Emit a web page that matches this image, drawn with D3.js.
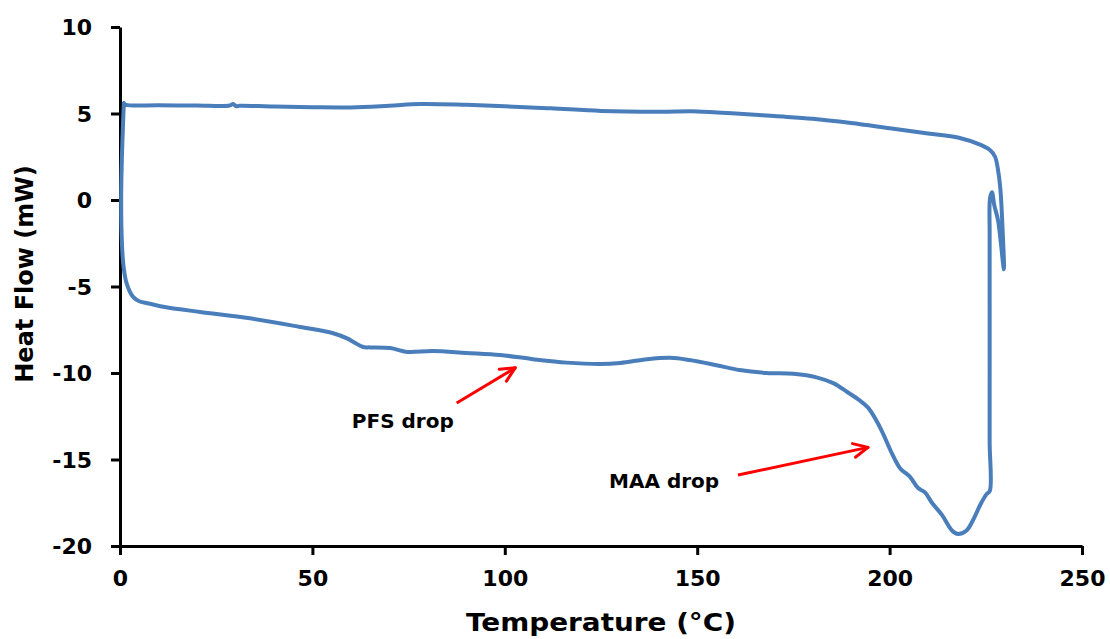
<!DOCTYPE html>
<html><head><meta charset="utf-8">
<script src="https://cdn.jsdelivr.net/npm/d3@7"></script>
<style>body{margin:0;background:#fff}svg text{font-family:"DejaVu Sans",Verdana,sans-serif;font-weight:bold;fill:#000}</style>
</head><body><svg id="c" width="1110" height="639"></svg>
<script>
// Temperature (°C) along the DSC loop, in drawing order
const temps = [1.0,1.6,10,20,28.5,29.4,30.2,31,40,50,60,70,78,90,100,112,125,140,150,160,170,180,190,200,210,218,223.5,226,227.4,228.2,228.8,229.3,229.7,228.2,227.2,226.6,226.1,226.0,226.0,226.0,226.0,226.05,225.2,223.6,221.7,220,217.8,216.2,213.6,211,209.2,207.4,205.3,202.7,200.5,198.5,196.7,194.4,192.3,189,185.5,181,175,168,161,155,148,143,137,130,124.7,116,107.3,98.8,90,81.3,74.6,70.2,65,63.2,61,59,55.4,46.8,33.8,20.8,12,7.8,5,3.4,1.7,0.9,0.5,0.3,0.5,0.8,1.0];
// Heat flow (mW)
const heatFlow = [5.6,5.5,5.48,5.46,5.46,5.55,5.42,5.45,5.4,5.36,5.35,5.45,5.55,5.5,5.42,5.3,5.15,5.1,5.12,5.0,4.85,4.7,4.45,4.15,3.85,3.6,3.2,2.9,2.5,1.7,0.6,-1.4,-4.0,-1.2,-0.3,0.45,0.1,-2.0,-6.0,-10.0,-14.0,-16.8,-17.0,-17.6,-18.5,-19.1,-19.3,-19.1,-18.2,-17.5,-16.9,-16.65,-16.0,-15.5,-14.6,-13.6,-12.8,-12.0,-11.6,-11.1,-10.6,-10.25,-10.05,-10.0,-9.83,-9.55,-9.25,-9.12,-9.2,-9.42,-9.48,-9.4,-9.2,-8.96,-8.84,-8.73,-8.78,-8.56,-8.52,-8.5,-8.25,-8.0,-7.7,-7.34,-6.84,-6.47,-6.2,-6.0,-5.85,-5.6,-4.8,-3.8,-2.5,0,2.5,4.5,5.6];
const xTicks = [0,50,100,150,200,250];
const yTicks = [10,5,0,-5,-10,-15,-20];
const noteLabels = ["PFS drop","MAA drop"];
const noteFrom = [[87.5,-11.73],[160.6,-15.9]];
const noteTo = [[102.7,-9.7],[194.4,-14.3]];
const noteText = [[73.5,-12.77],[141.4,-16.24]];

const svg = d3.select("#c");
const x = d3.scaleLinear().domain([0,250]).range([120,1082]);
const y = d3.scaleLinear().domain([-20,10]).range([546,27]);

const xa = svg.append("g").attr("transform","translate(0,546)")
  .call(d3.axisBottom(x).tickValues(xTicks).tickFormat(d=>String(d)).tickSize(9).tickPadding(15).tickSizeOuter(0));
const ya = svg.append("g").attr("transform","translate(120,0)")
  .call(d3.axisLeft(y).tickValues(yTicks).tickFormat(d=>String(d)).tickSize(9).tickPadding(19).tickSizeOuter(0));
[xa,ya].forEach(a=>{a.select(".domain").attr("stroke","#000").attr("stroke-width",3);
  a.selectAll(".tick line").attr("stroke","#000").attr("stroke-width",3);
  a.selectAll("text").attr("font-family",null).attr("font-size",null);});
xa.selectAll("text").style("font-size","22px");
ya.selectAll("text").style("font-size","22px").attr("dy","0.36em");

const pts = temps.map((t,i)=>[t,heatFlow[i]]);
svg.append("path").datum(pts)
  .attr("d", d3.line().x(d=>x(d[0])).y(d=>y(d[1])).curve(d3.curveCatmullRom.alpha(0.5)))
  .attr("fill","none").attr("stroke","#4a7ebb").attr("stroke-width",4)
  .attr("stroke-linejoin","round").attr("stroke-linecap","round");

// annotations
noteLabels.forEach((lab,i)=>{
  const [x1,y1]=[x(noteFrom[i][0]),y(noteFrom[i][1])], [x2,y2]=[x(noteTo[i][0]),y(noteTo[i][1])];
  svg.append("line").attr("x1",x1).attr("y1",y1).attr("x2",x2).attr("y2",y2)
    .attr("stroke","#f00").attr("stroke-width",3);
  const ang=Math.atan2(y2-y1,x2-x1), L=16, a=0.45;
  [ang+Math.PI-a, ang+Math.PI+a].forEach(b=>{
    svg.append("line").attr("x1",x2).attr("y1",y2).attr("x2",x2+L*Math.cos(b)).attr("y2",y2+L*Math.sin(b))
      .attr("stroke","#f00").attr("stroke-width",3).attr("stroke-linecap","round");
  });
  svg.append("text").attr("x",x(noteText[i][0])).attr("y",y(noteText[i][1]))
    .attr("dy","0.36em").attr("text-anchor","middle").style("font-size","20px").text(lab);
});

svg.append("text").attr("x",601).attr("y",631).attr("text-anchor","middle").style("font-size","24px")
  .attr("textLength",270).attr("lengthAdjust","spacingAndGlyphs").text("Temperature (°C)");
svg.append("text").attr("transform","translate(33,274) rotate(-90)").attr("text-anchor","middle").style("font-size","24px").text("Heat Flow (mW)");
</script></body></html>
